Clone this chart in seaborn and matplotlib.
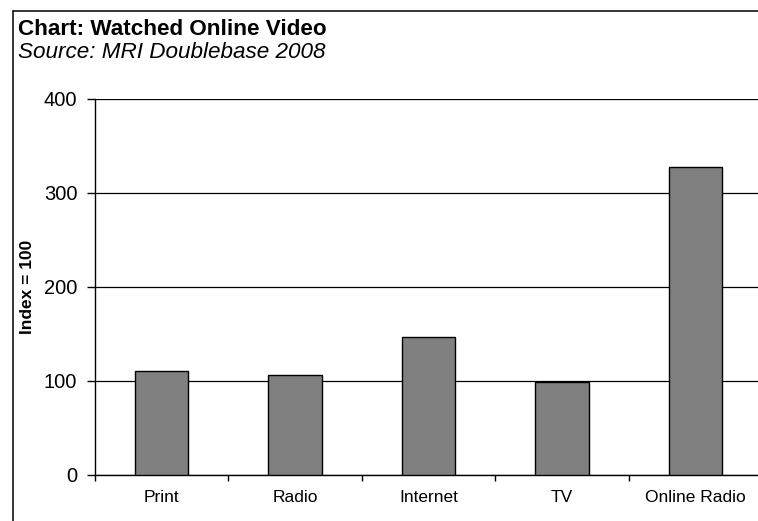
import matplotlib
matplotlib.use("Agg")
import matplotlib.pyplot as plt
import numpy as np
import pandas as pd
import seaborn as sns
from matplotlib.lines import Line2D

categories = ["Print", "Radio", "Internet", "TV", "Online Radio"]
index_values = [111, 106, 147, 98.5, 328]
y_ticks = [0, 100, 200, 300, 400]

df = pd.DataFrame({"medium": categories, "index": index_values})

sns.set_theme(style="white")
plt.rcParams["font.family"] = ["Liberation Sans", "DejaVu Sans"]

W, H = 758, 521
fig = plt.figure(figsize=(W / 100, H / 100), dpi=100)
ax = fig.add_axes([95 / W, 46 / H, 667 / W, 376 / H])

sns.barplot(
    data=df,
    x="medium",
    y="index",
    order=categories,
    color="#808080",
    saturation=1,
    width=0.4,
    edgecolor="black",
    linewidth=1.0,
    ax=ax,
    zorder=3,
)

ax.set_ylim(0, 400)
ax.set_xlim(-0.5, len(categories) - 0.5)
ax.set_yticks(y_ticks)
ax.yaxis.grid(True, color="black", linewidth=0.9)
ax.set_axisbelow(True)

# category separators as minor ticks on x
ax.set_xticks(np.arange(-0.5, len(categories), 1.0), minor=True)
ax.tick_params(axis="x", which="major", length=0, pad=11, labelsize=12.5)
ax.tick_params(axis="x", which="minor", length=4.5, width=1, color="black",
               direction="out", bottom=True)
ax.tick_params(axis="y", which="major", length=5.8, width=1, color="black",
               direction="out", left=True, labelsize=14.5, pad=7)
for lab in ax.get_xticklabels() + ax.get_yticklabels():
    lab.set_color("black")

for side in ["top", "right"]:
    ax.spines[side].set_visible(False)
for side in ["left", "bottom"]:
    ax.spines[side].set_color("black")
    ax.spines[side].set_linewidth(1.0)

ax.set_xlabel("")
ax.set_ylabel("Index = 100", fontsize=12.5, fontweight="bold", color="black",
              labelpad=6)

# chart frame (cropped on right/bottom)
fx, fy = 12.5 / W, 1 - 10.5 / H
fig.add_artist(Line2D([fx, fx], [0, fy], transform=fig.transFigure,
                      color="black", linewidth=1.1))
fig.add_artist(Line2D([fx, 1], [fy, fy], transform=fig.transFigure,
                      color="black", linewidth=1.1))

fig.text(18 / W, 1 - 35 / H, "Chart: Watched Online Video", fontsize=16.2,
         fontweight="bold", color="black", va="baseline", ha="left")
fig.text(18 / W, 1 - 58 / H, "Source: MRI Doublebase 2008", fontsize=16.2,
         fontstyle="italic", color="black", va="baseline", ha="left")

fig.savefig("out.png", dpi=100)
